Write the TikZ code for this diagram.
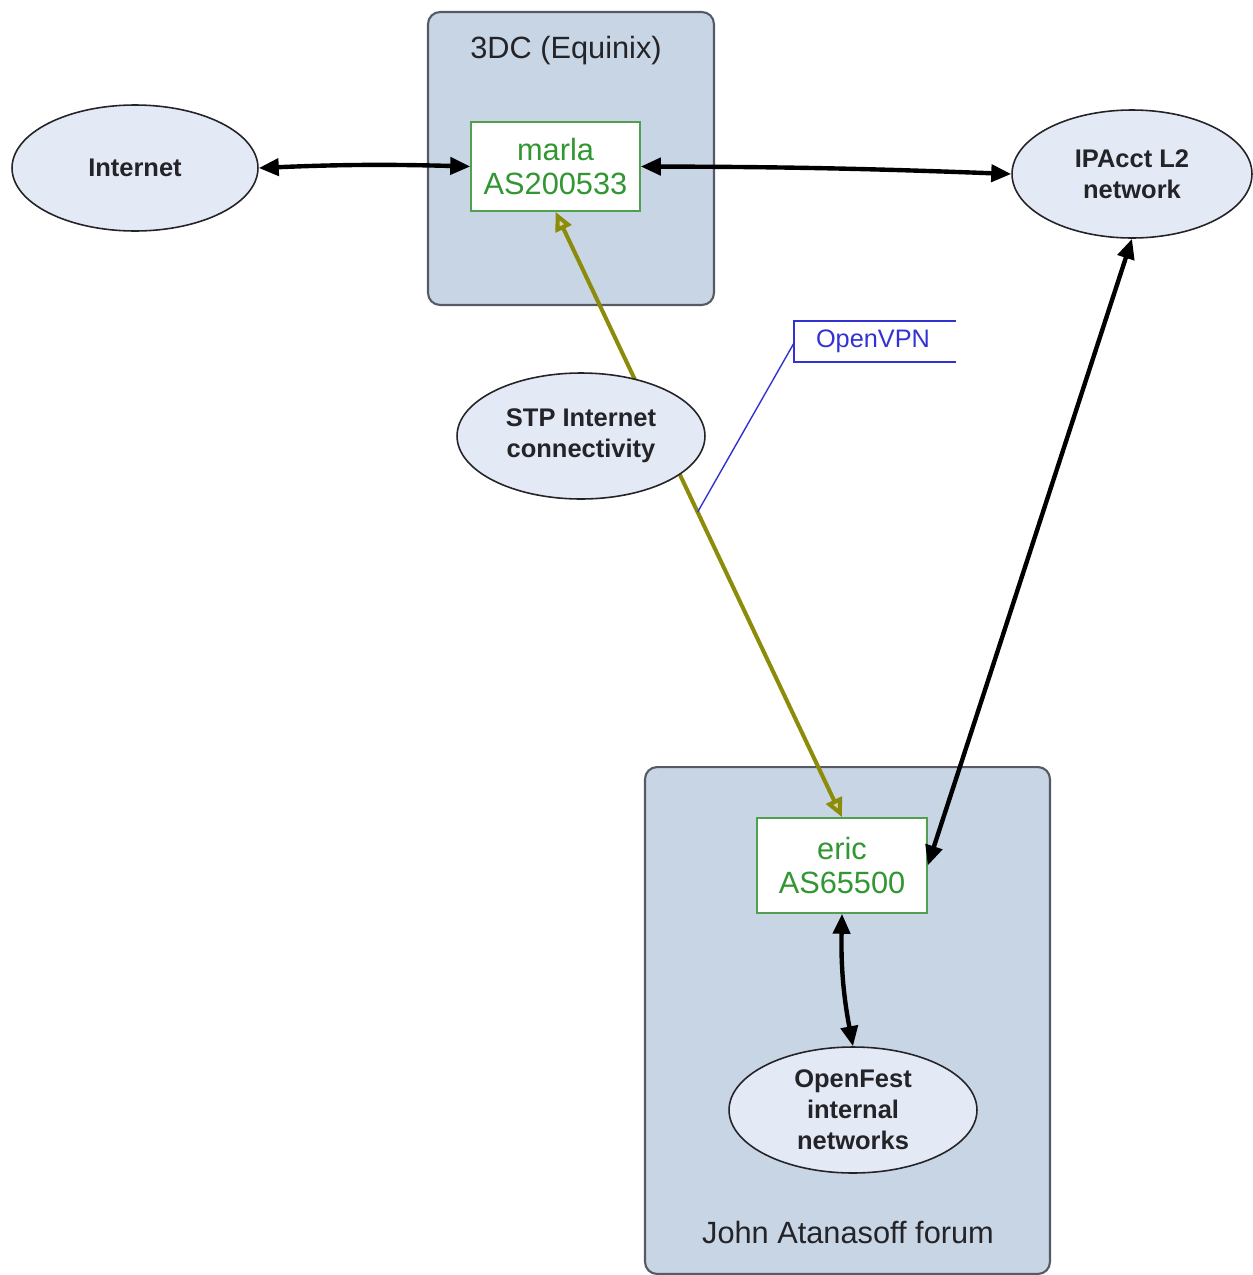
\documentclass[tikz,border=0pt]{standalone}
\usepackage{fontspec}
\setmainfont{Liberation Sans}
\usetikzlibrary{shapes.geometric,arrows.meta}
\definecolor{boxfill}{RGB}{200,213,229}
\definecolor{boxline}{RGB}{85,90,100}
\definecolor{ellfill}{RGB}{228,234,245}
\definecolor{grn}{RGB}{50,150,50}
\definecolor{grnline}{RGB}{80,160,80}
\definecolor{olive2}{RGB}{140,140,10}
\definecolor{vpnblue}{RGB}{50,50,210}
\definecolor{txt}{RGB}{35,35,40}
\tikzset{
  container/.style={draw=boxline, fill=boxfill, line width=1.2pt, rounded corners=0.24cm, inner sep=0pt},
  cloud/.style={ellipse, draw=txt, fill=ellfill, line width=0.9pt, inner sep=0pt, align=center,
     font=\fontsize{14.5}{17.6}\selectfont\bfseries, text=txt},
  router/.style={draw=grnline, fill=white, line width=0.9pt, inner sep=0pt, align=center,
     font=\fontsize{17.5}{19.8}\selectfont, text=grn},
  title/.style={font=\fontsize{17.5}{20}\selectfont, text=txt},
  link/.style={line width=2.5pt, black, {Triangle[length=0.4cm,width=0.34cm]}-{Triangle[length=0.4cm,width=0.34cm]}},
  vpnlink/.style={line width=2.3pt, olive2, {Triangle[open,length=0.38cm,width=0.34cm,fill=olive2!35]}-{Triangle[open,length=0.38cm,width=0.34cm,fill=olive2!35]}},
  callout/.style={vpnblue, line width=0.8pt}
}
\begin{document}
\begin{tikzpicture}[x=0.02cm,y=-0.02cm]
\useasboundingbox (0,0) rectangle (1252,1275);
% containers
\node[container, minimum width=5.72cm, minimum height=5.86cm] (dc) at (571,158.5) {};
\node[title] (dct) at (566,51) {3DC (Equinix)};
\node[container, minimum width=8.1cm, minimum height=10.14cm] (jaf) at (847.5,1020.5) {};
\node[title] (jaft) at (848,1232) {John Atanasoff forum};
% routers
\node[router, minimum width=3.38cm, minimum height=1.78cm] (marla) at (555.5,166.5) {marla\\AS200533};
\node[router, minimum width=3.4cm, minimum height=1.9cm] (eric) at (842,865.5) {eric\\AS65500};
% olive link behind STP ellipse
\draw[vpnlink] (marla.south) -- (eric.north) coordinate[pos=0.496] (vpnpt);
% clouds
\node[cloud, minimum width=4.92cm, minimum height=2.52cm] (inet) at (135,168) {Internet};
\node[cloud, minimum width=4.8cm, minimum height=2.56cm] (ipacct) at (1132,174) {IPAcct L2\\network};
\node[cloud, minimum width=4.96cm, minimum height=2.52cm] (stp) at (581,436) {STP Internet\\connectivity};
\node[cloud, minimum width=4.96cm, minimum height=2.52cm] (ofest) at (853,1110) {OpenFest\\internal\\networks};
% links
\draw[link] (inet.east) to[bend left=2] (marla.west);
\draw[link] (marla.east) to[bend left=1] (ipacct.west);
\draw[link] (ipacct.south) -- (eric.east);
\draw[link] (eric.south) to[bend right=6] (ofest.north);
% OpenVPN callout
\node[font=\fontsize{14.4}{17}\selectfont, text=vpnblue] (vpn) at (873,341) {OpenVPN};
\draw[callout] (956,321) -- (794,321) -- (794,362) -- (956,362);
\coordinate (vpnanchor) at (794,343);
\draw[callout] (vpnanchor) -- (vpnpt);
\end{tikzpicture}
\end{document}
